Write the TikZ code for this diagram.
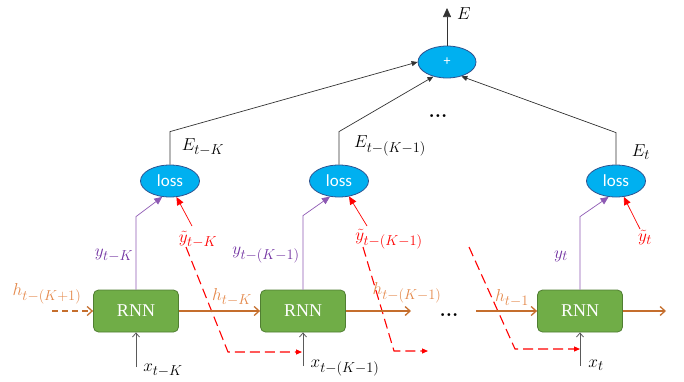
\documentclass[tikz,border=0pt]{standalone}
\usepackage{fontspec}
\newfontfamily\lossfont{Carlito}
\newfontfamily\rnnfont{Liberation Serif}
\usetikzlibrary{arrows.meta,shapes.geometric}
\DeclareMathSizes{18}{18}{14}{11}
\definecolor{cyanfill}{RGB}{0,176,240}
\definecolor{cyanline}{RGB}{47,82,143}
\definecolor{rnnfill}{RGB}{112,173,71}
\definecolor{rnnline}{RGB}{80,126,50}
\definecolor{orgline}{RGB}{197,110,45}
\definecolor{orglab}{RGB}{228,136,74}
\definecolor{purp}{RGB}{112,48,160}
\definecolor{redc}{RGB}{255,0,0}
\definecolor{gryline}{RGB}{90,90,90}
\begin{document}
\begin{tikzpicture}[x=1pt,y=-1pt,
  lab/.style={inner sep=0pt,font=\fontsize{18}{20}\selectfont},
  dotlab/.style={inner sep=0pt,font=\fontsize{20}{20}\selectfont\bfseries},
  sumnode/.style={ellipse,draw=cyanline,fill=cyanfill,line width=0.8pt,minimum width=58pt,minimum height=32pt,inner sep=0pt,text=white,font=\lossfont\fontsize{14}{16}\selectfont},
  lossnode/.style={ellipse,draw=cyanline,fill=cyanfill,line width=0.8pt,minimum width=59pt,minimum height=32pt,inner sep=0pt,text=white,font=\lossfont\fontsize{17}{18}\selectfont},
  rnnbox/.style={rectangle,rounded corners=5pt,draw=rnnline,fill=rnnfill,line width=0.8pt,minimum width=85pt,minimum height=42pt,inner sep=0pt,text=white,font=\rnnfont\fontsize{18}{20}\selectfont},
  blk/.style={draw=black!80,line width=0.7pt,-{Triangle[length=6pt,width=5pt]}},
  pur/.style={draw=purp!80,line width=0.7pt,-{Triangle[length=8pt,width=7pt]}},
  redarr/.style={draw=redc,line width=0.7pt,-{Triangle[length=8pt,width=7pt]}},
  reddash/.style={draw=redc,line width=1.1pt,dash pattern=on 10pt off 5pt,-{Triangle[length=6pt,width=5pt]}},
  org/.style={draw=orgline,line width=1.3pt,-{Straight Barb[length=5pt,width=9pt]}},
  orgdash/.style={draw=orgline,line width=1.3pt,dash pattern=on 6pt off 4pt,-{Straight Barb[length=5pt,width=9pt]}},
  gry/.style={draw=gryline,line width=0.8pt,-{Straight Barb[length=4pt,width=7pt]}}
]
\useasboundingbox (0,0) rectangle (684,381);

% nodes
\node[sumnode] (sum) at (447,62) {+};
\node[lossnode] (L1) at (170,181) {loss};
\node[lossnode] (L2) at (339,181) {loss};
\node[lossnode] (L3) at (616,181) {loss};
\node[rnnbox] (R1) at (136,311) {RNN};
\node[rnnbox] (R2) at (303,311) {RNN};
\node[rnnbox] (R3) at (580,311) {RNN};

% labels
\node[lab] (lE) at (464,14) {$E$};
\node[lab] (lE1) at (203,147) {$E_{t-K}$};
\node[lab] (lE2) at (390,146) {$E_{t-(K-1)}$};
\node[lab] (lE3) at (641,152) {$E_{t}$};
\node[dotlab] (dots1) at (438,116) {...};
\node[dotlab] (dots2) at (449,315) {...};
\node[lab,text=purp] (ly1) at (114,255) {$y_{t-K}$};
\node[lab,text=purp] (ly2) at (266,255) {$y_{t-(K-1)}$};
\node[lab,text=purp] (ly3) at (561,256) {$y_{t}$};
\node[lab,text=redc] (lty1) at (198,239) {$\tilde{y}_{t-K}$};
\node[lab,text=redc] (lty2) at (389,239) {$\tilde{y}_{t-(K-1)}$};
\node[lab,text=redc] (lty3) at (645,238) {$\tilde{y}_{t}$};
\node[lab,text=orglab] (lh0) at (47,294) {$h_{t-(K+1)}$};
\node[lab,text=orglab] (lh1) at (232,297) {$h_{t-K}$};
\node[lab,text=orglab] (lh2) at (407,293) {$h_{t-(K-1)}$};
\node[lab,text=orglab] (lh3) at (512,298) {$h_{t-1}$};
\node[lab] (lx1) at (163,370) {$x_{t-K}$};
\node[lab] (lx2) at (345,368) {$x_{t-(K-1)}$};
\node[lab] (lx3) at (596,365) {$x_{t}$};

% coordinates
\coordinate (Etop) at (447,8);
\coordinate (ty1s) at (192,226);
\coordinate (ty2s) at (367,226);
\coordinate (ty3s) at (640,229);
\coordinate (d1a) at (186,247);
\coordinate (d1b) at (228,352);
\coordinate (d1c) at (302,352);
\coordinate (d2a) at (363,247);
\coordinate (d2b) at (394,351);
\coordinate (d2c) at (428,351);
\coordinate (d3a) at (469,247);
\coordinate (d3b) at (515,349);
\coordinate (d3c) at (580,349);
\coordinate (h0s) at (52,311);
\coordinate (h2e) at (411,311);
\coordinate (h3s) at (476,311);
\coordinate (h3e) at (666,311);
\coordinate (x1s) at (136,367);
\coordinate (x2s) at (303,366);
\coordinate (x3s) at (580,366);

% sum connections
\draw[draw=black!80,line width=0.7pt,-{Triangle[length=9pt,width=8pt]}] (sum.north) -- (Etop);
\draw[blk] (L1.north) -- ++(0,-33) -- (sum.west);
\draw[blk] (L2.north) -- ++(0,-33) -- (sum.-133);
\draw[blk] (L3.north) -- ++(0,-32) -- (sum.-45);

% outputs
\draw[pur] (R1.north) -- ++(0,-73) -- (L1.-116);
\draw[pur] (R2.north) -- ++(0,-74) -- (L2.-120);
\draw[pur] (R3.north) -- ++(0,-73) -- (L3.-115);

% targets
\draw[redarr] (ty1s) -- (L1.-68);
\draw[redarr] (ty2s) -- (L2.-57);
\draw[redarr] (ty3s) -- (L3.-64);
\draw[reddash] (d1a) -- (d1b) -- (d1c);
\draw[reddash] (d2a) -- (d2b) -- (d2c);
\draw[reddash] (d3a) -- (d3b) -- (d3c);

% hidden states
\draw[orgdash] (h0s) -- (R1.west);
\draw[org] (R1.east) -- (R2.west);
\draw[org] (R2.east) -- (h2e);
\draw[org] (h3s) -- (R3.west);
\draw[org] (R3.east) -- (h3e);

% inputs
\draw[gry] (x1s) -- (R1.south);
\draw[gry] (x2s) -- (R2.south);
\draw[gry] (x3s) -- (R3.south);
\end{tikzpicture}
\end{document}
